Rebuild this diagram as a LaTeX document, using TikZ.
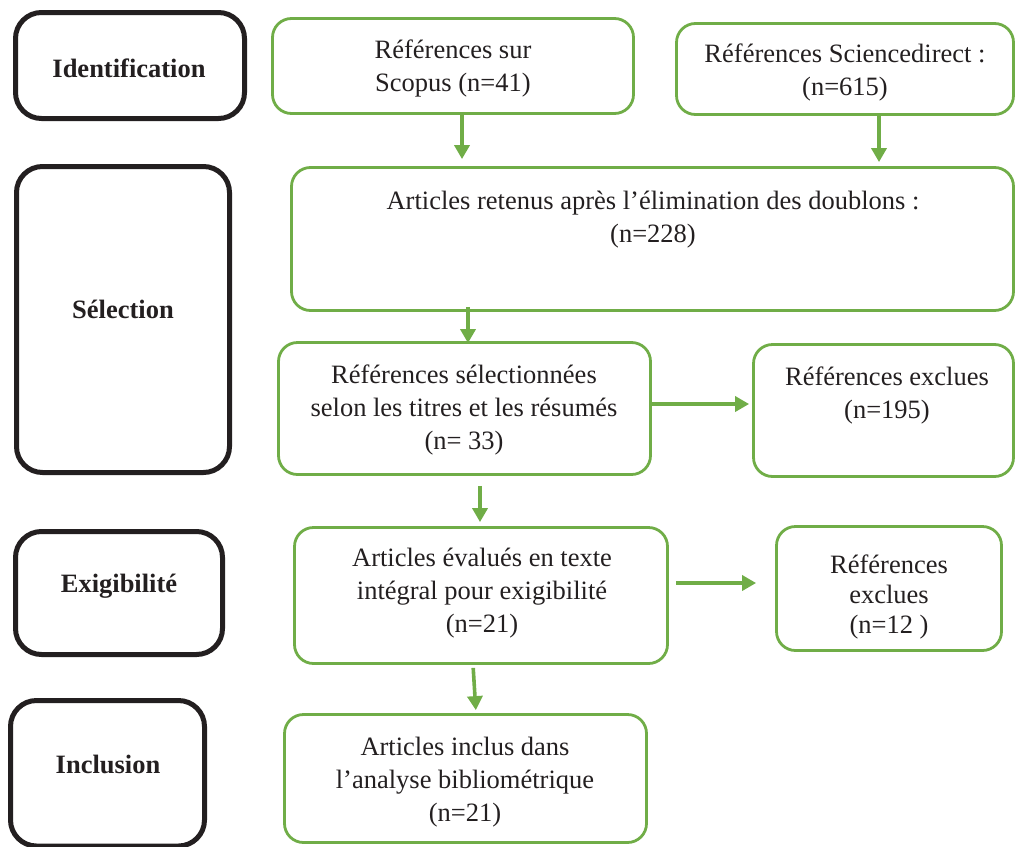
\documentclass[tikz,border=0pt]{standalone}
\usepackage{fontspec}
\setmainfont{Liberation Serif}
\usetikzlibrary{arrows.meta,calc}
\definecolor{grn}{HTML}{70AD47}
\definecolor{ink}{HTML}{231F20}
\begin{document}
\begin{tikzpicture}[x=1pt,y=-1pt,
  phase/.style={draw=ink,line width=5pt,rounded corners=26pt,rectangle,inner sep=0pt},
  gbox/.style={draw=grn,line width=2.8pt,rounded corners=19pt,rectangle,inner sep=0pt},
  txt/.style={anchor=north,inner sep=0pt,align=center,text=ink,
    font=\fontsize{26.5}{33}\selectfont},
  btxt/.style={txt,font=\fontsize{26.5}{33}\selectfont\bfseries},
  arr/.style={draw=grn,line width=3.6pt,-{Triangle[width=15pt,length=14pt]}}]
\useasboundingbox (0,0) rectangle (1016,846);
% phase boxes
\node[phase,minimum width=229pt,minimum height=106pt] (id) at (130,65.5) {};
\node[phase,minimum width=213pt,minimum height=306pt] (sel) at (123,319.5) {};
\node[phase,minimum width=207pt,minimum height=123pt] (exi) at (119,593) {};
\node[phase,minimum width=194pt,minimum height=145.5pt] (inc) at (107.5,773.25) {};
% green boxes
\node[gbox,minimum width=361pt,minimum height=95pt] (scopus) at (453,66) {};
\node[gbox,minimum width=337pt,minimum height=91pt] (sd) at (845,69) {};
\node[gbox,minimum width=722pt,minimum height=143pt] (ret) at (652.5,239) {};
\node[gbox,minimum width=372pt,minimum height=132pt] (rsel) at (464.5,408.5) {};
\node[gbox,minimum width=260pt,minimum height=132pt] (rexa) at (883.5,410.5) {};
\node[gbox,minimum width=373pt,minimum height=136pt] (eval) at (481,595.5) {};
\node[gbox,minimum width=225pt,minimum height=124pt] (rexb) at (889,588.5) {};
\node[gbox,minimum width=362pt,minimum height=128pt] (incl) at (465.5,778.5) {};
% texts
\node[btxt] (tid) at (129,58.7) {Identification};
\node[btxt] (tsel) at (123,299.7) {Sélection};
\node[btxt] (texi) at (119,573.7) {Exigibilité};
\node[btxt] (tinc) at (108,754.7) {Inclusion};
\node[txt] (tsc) at (453,39.7) {Références sur\\Scopus (n=41)};
\node[txt] (tsd) at (845,43.7) {Références Sciencedirect :\\(n=615)};
\node[txt] (tret) at (653,190.7) {Articles retenus après l’élimination des doublons :\\(n=228)};
\node[txt] (trsel) at (464,364.7) {Références sélectionnées\\selon les titres et les résumés\\(n= 33)};
\node[txt] (trexa) at (887,366.7) {Références exclues\\(n=195)};
\node[txt] (teval) at (482,547.7) {Articles évalués en texte\\intégral pour exigibilité\\(n=21)};
\node[txt,font=\fontsize{26.5}{30}\selectfont] (trexb) at (889,554.7) {Références\\exclues\\(n=12 )};
\node[txt] (tincl) at (465,736.7) {Articles inclus dans\\l’analyse bibliométrique\\(n=21)};
% arrow x/y references
\coordinate (c1) at (462,0);
\coordinate (c2) at (879,0);
\coordinate (c3) at (468,0);
\coordinate (c4) at (0,404);
\coordinate (c5) at (480,0);
\coordinate (c6) at (0,583);
\coordinate (c7a) at (473,0);
\coordinate (c7b) at (476,0);
% connectors
\draw[arr,shorten <=-3pt,shorten >=7pt] (scopus.south -| c1) -- (ret.north -| c1);
\draw[arr,shorten >=4pt] (sd.south -| c2) -- (ret.north -| c2);
\draw[arr,shorten <=-5pt,shorten >=-2pt] (ret.south -| c3) -- (rsel.north -| c3);
\draw[arr,shorten >=3pt] (rsel.east |- c4) -- (rexa.west |- c4);
\draw[arr,shorten <=10pt,shorten >=4pt] (rsel.south -| c5) -- (eval.north -| c5);
\draw[arr,shorten <=7pt,shorten >=19pt] (eval.east |- c6) -- (rexb.west |- c6);
\draw[arr,shorten <=3pt,shorten >=3pt] (eval.south -| c7a) -- (incl.north -| c7b);
\end{tikzpicture}
\end{document}
